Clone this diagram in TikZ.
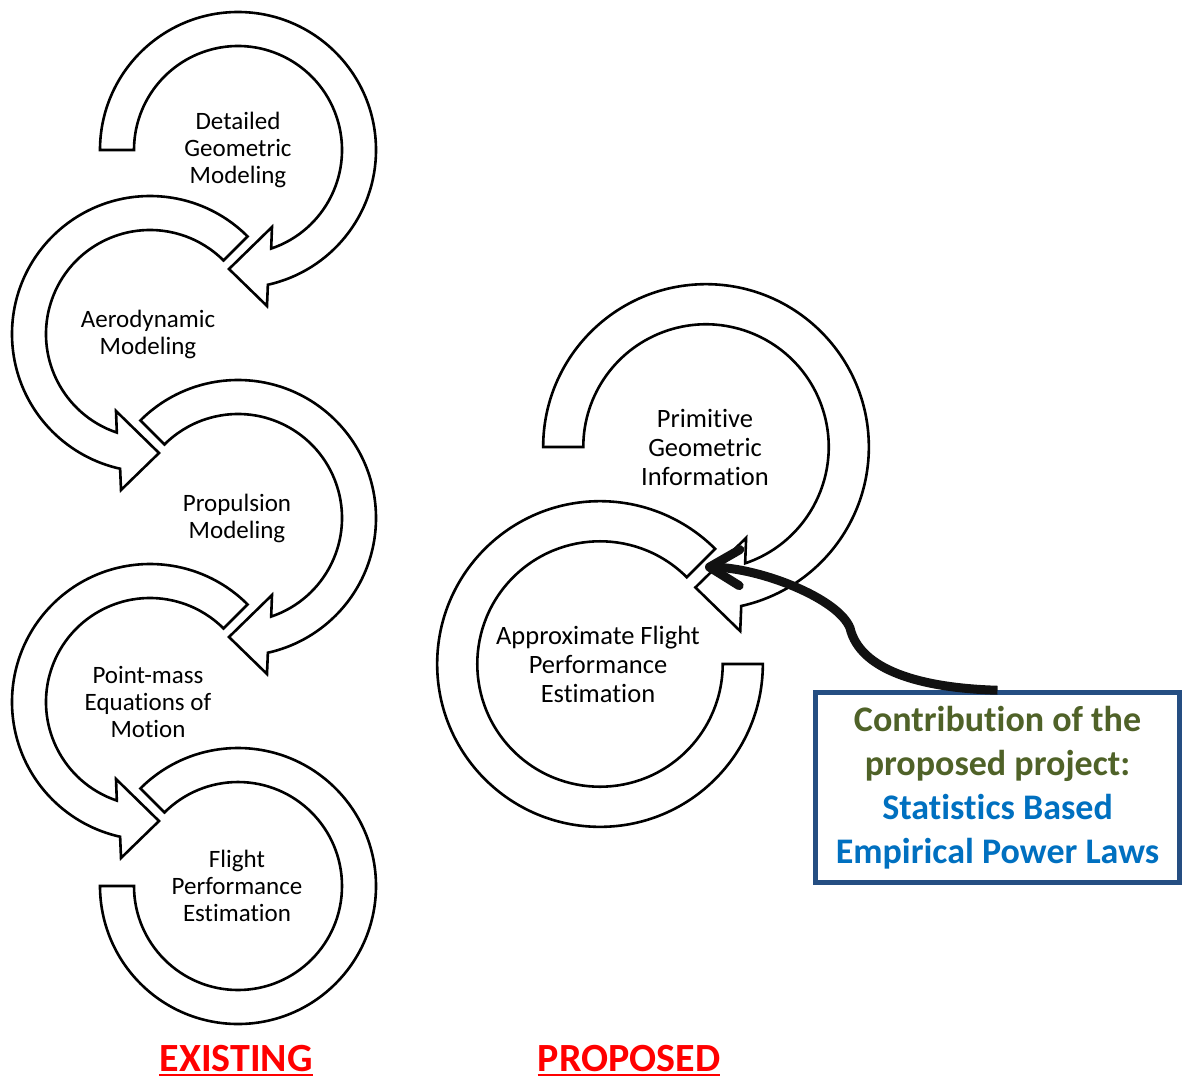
\documentclass[tikz,border=0pt]{standalone}
\usepackage{fontspec}
\setmainfont{Carlito}[Ligatures=NoCommon]
\usetikzlibrary{arrows.meta}

\definecolor{boxblue}{RGB}{37,78,130}
\definecolor{olivetext}{RGB}{79,98,40}
\definecolor{lawblue}{RGB}{0,112,192}
\definecolor{inkblack}{RGB}{17,17,17}
\definecolor{labelred}{RGB}{255,0,0}

% Block arc in a local frame: starts at angle #1, runs clockwise on screen
% and ends in an arrowhead at the bottom pointing left.
\newcommand\headedarc[1]{%
  \draw[blockarc] (#1:138) arc[start angle=#1, end angle=437.5, radius=138]
    -- (29,156) -- (-9,119) -- (34,77) -- (431.4:104)
    arc[start angle=431.4, end angle=#1, radius=104] -- cycle;}
% Block arc without a head, from angle #1 to angle #2 (clockwise on screen).
\newcommand\plainarc[2]{%
  \draw[blockarc] (#1:138) arc[start angle=#1, end angle=#2, radius=138]
    -- (#2:104) arc[start angle=#2, end angle=#1, radius=104] -- cycle;}

\tikzset{
  blockarc/.style={draw=black, fill=white, line width=2.6pt, line join=miter},
  steplabel/.style={align=center, inner sep=0pt, font=\fontsize{25}{27}\selectfont},
  biglabel/.style={align=center, inner sep=0pt, font=\fontsize{26.5}{29}\selectfont},
  columnlabel/.style={anchor=base, inner sep=0pt, text=labelred, font=\fontsize{40}{44}\bfseries\selectfont},
  contribbox/.style={draw=boxblue, fill=white, line width=4.5pt, align=center,
    minimum width=364pt, minimum height=190pt, inner sep=0pt,
    font=\fontsize{36}{44}\bfseries\selectfont},
}

\begin{document}
\begin{tikzpicture}[x=1pt, y=-1pt]
\useasboundingbox (0,0) rectangle (1183,1080);

% ---------- existing process chain ----------
\begin{scope}[shift={(238,150)}]\headedarc{180}\end{scope}
\begin{scope}[shift={(150,334)}, xscale=-1]\headedarc{225}\end{scope}
\begin{scope}[shift={(238,518)}]\headedarc{225}\end{scope}
\begin{scope}[shift={(150,702)}, xscale=-1]\headedarc{225}\end{scope}
\begin{scope}[shift={(238,886)}]\plainarc{225}{540}\end{scope}

\node[steplabel] (geo)   at (238,150) {Detailed\\Geometric\\Modeling};
\node[steplabel] (aero)  at (148,334) {Aerodynamic\\Modeling};
\node[steplabel] (prop)  at (237,518) {Propulsion\\Modeling};
\node[steplabel] (eom)   at (148,702) {Point-mass\\Equations of\\Motion};
\node[steplabel] (perf)  at (237,886) {Flight\\Performance\\Estimation};

% ---------- proposed process ----------
\begin{scope}[shift={(600,664)}, scale=1.18]\plainarc{0}{315}\end{scope}
\begin{scope}[shift={(706,447)}, scale=1.18]\headedarc{180}\end{scope}

\node[biglabel] (prim)   at (705,447) {Primitive\\Geometric\\Information};
\node[biglabel] (approx) at (598,664) {Approximate Flight\\Performance\\Estimation};

% ---------- contribution box and pointer ----------
\node[contribbox] (contrib) at (997.5,787.5)
  {\textcolor{olivetext}{Contribution of the}\\
   \textcolor{olivetext}{proposed project:}\\
   \textcolor{lawblue}{Statistics Based}\\
   \textcolor{lawblue}{Empirical Power Laws}};

\coordinate (ptip) at (705,567);
\draw[inkblack, line width=9pt,
      -{Straight Barb[length=30pt, width=36pt, round]}]
  (contrib.north) .. controls (920,688) and (860,670) .. (850,628)
  .. controls (838,598) and (760,568) .. (ptip);

% ---------- column captions ----------
\node[columnlabel] (existing) at (236,1071) {EXISTING};
\node[columnlabel] (proposed) at (629,1071) {PROPOSED};
\draw[labelred, line width=2pt] ([yshift=-4pt]existing.base west) -- ([yshift=-4pt]existing.base east);
\draw[labelred, line width=2pt] ([yshift=-4pt]proposed.base west) -- ([yshift=-4pt]proposed.base east);
\end{tikzpicture}
\end{document}
